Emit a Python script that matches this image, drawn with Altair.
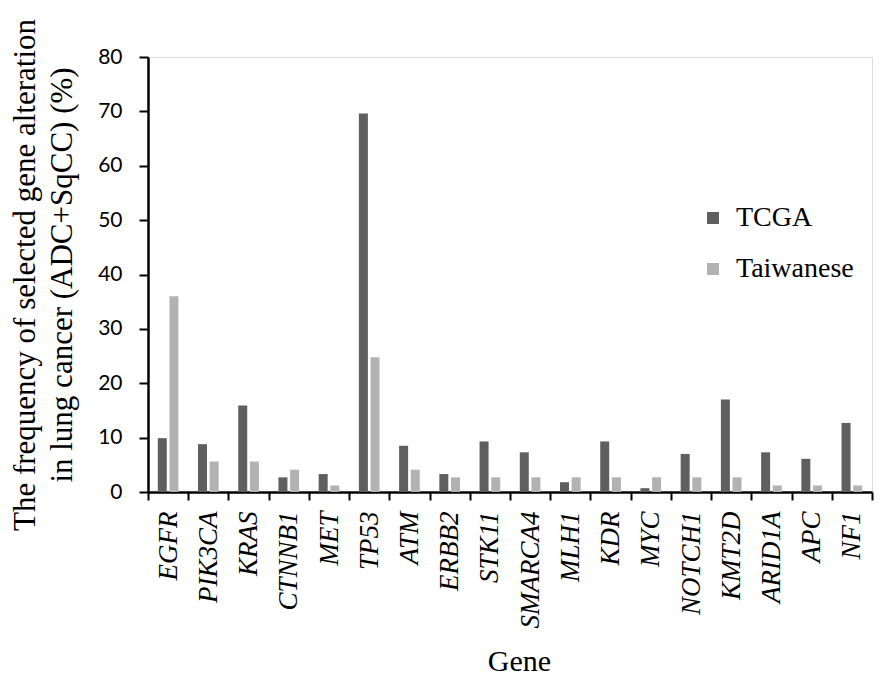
import altair as alt
import pandas as pd

genes = ["EGFR", "PIK3CA", "KRAS", "CTNNB1", "MET", "TP53", "ATM", "ERBB2", "STK11",
         "SMARCA4", "MLH1", "KDR", "MYC", "NOTCH1", "KMT2D", "ARID1A", "APC", "NF1"]
tcga = [9.9, 8.8, 15.9, 2.7, 3.3, 69.6, 8.5, 3.3, 9.3, 7.3, 1.8, 9.3, 0.7, 7.0, 17.0, 7.3, 6.1, 12.7]
taiwanese = [36.0, 5.6, 5.6, 4.1, 1.2, 24.8, 4.1, 2.7, 2.7, 2.7, 2.7, 2.7, 2.7, 2.7, 2.7, 1.2, 1.2, 1.2]
series = ["TCGA", "Taiwanese"]
colors = ["#5f5f5f", "#b2b2b2"]
y_ticks = [0, 10, 20, 30, 40, 50, 60, 70, 80]

rows = []
for g, a, b in zip(genes, tcga, taiwanese):
    rows.append({"Gene": g, "Series": series[0], "Value": a})
    rows.append({"Gene": g, "Series": series[1], "Value": b})
df = pd.DataFrame(rows)

SERIF = "Liberation Serif"
SANS = "Lato"

chart = alt.Chart(df).mark_bar(size=9).encode(
    x=alt.X("Gene:N", sort=genes,
            scale=alt.Scale(paddingInner=0, paddingOuter=0),
            axis=alt.Axis(title="Gene", labelAngle=-90, labelAlign="right", labelBaseline="middle",
                          labelFont=SERIF, labelFontStyle="italic", labelFontSize=27,
                          labelColor="black", labelPadding=11,
                          titleFont=SERIF, titleFontSize=30, titleFontWeight="normal",
                          titleColor="black", titleX=371, titleY=178, titleBaseline="alphabetic",
                          tickBand="extent", tickSize=8, tickWidth=2, tickColor="black",
                          domainColor="black", domainWidth=2.5)),
    xOffset=alt.XOffset("Series:N", sort=series,
                        scale=alt.Scale(paddingInner=0.35, paddingOuter=0.9)),
    y=alt.Y("Value:Q", scale=alt.Scale(domain=[0, 80]),
            axis=alt.Axis(title=["The frequency of selected gene alteration", "in lung cancer (ADC+SqCC) (%)"],
                          values=y_ticks, grid=False,
                          labelFont=SANS, labelFontSize=21, labelColor="black", labelPadding=17,
                          titleFont=SERIF, titleFontSize=31, titleFontWeight="normal",
                          titleColor="black", titlePadding=19, titleLineHeight=37,
                          tickSize=9, tickWidth=2, tickColor="black",
                          domainColor="black", domainWidth=2.5)),
    color=alt.Color("Series:N", sort=series,
                    scale=alt.Scale(domain=series, range=colors),
                    legend=alt.Legend(title=None, orient="none", legendX=551, legendY=147,
                                      symbolType="square", symbolSize=144, symbolStrokeWidth=0,
                                      labelFont=SERIF, labelFontSize=28, labelColor="black",
                                      rowPadding=23, labelOffset=9)),
).properties(
    width=724, height=435,
    autosize=alt.AutoSizeParams(type="none"),
    padding={"left": 140, "top": 49, "right": 16, "bottom": 185},
).configure_view(stroke=None).configure(background="white")

chart.save("out.html", embed_options={"renderer": "svg", "actions": False})
